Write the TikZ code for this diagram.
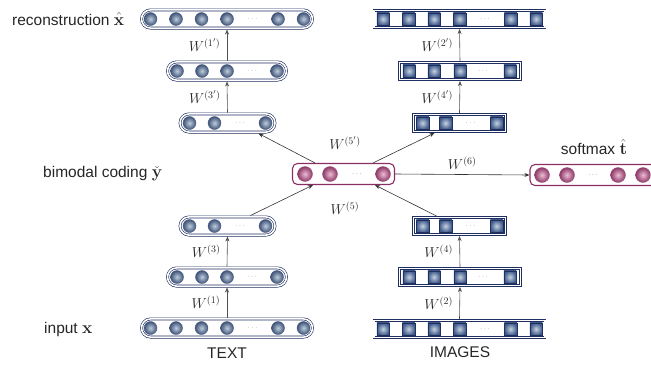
\documentclass[tikz,border=0pt]{standalone}
\usepackage[no-math]{fontspec}
\setsansfont{Liberation Sans}
\usetikzlibrary{shapes.misc,calc,arrows.meta}
\definecolor{navyc}{HTML}{1F2F5F}
\definecolor{tin}{HTML}{BFCCDB}
\definecolor{tout}{HTML}{3D5378}
\definecolor{sin}{HTML}{C6D2E0}
\definecolor{sout}{HTML}{3F5A8A}
\definecolor{purc}{HTML}{8A2E63}
\definecolor{pin}{HTML}{EDBCD4}
\definecolor{pout}{HTML}{8C3866}
\definecolor{arrc}{HTML}{505050}
\newcommand\lblmath[1]{{\fontsize{17.28}{20}\selectfont$#1$}}
\tikzset{
  layerbase/.style={draw=navyc, line width=0.6pt, double=white, double distance=1.6pt, outer sep=1.4pt, inner sep=0pt},
  tlayer/.style={layerbase, rounded rectangle, minimum height=18.2pt},
  ilayer/.style={layerbase, rectangle, minimum height=17.2pt},
  player/.style={draw=purc, line width=1.1pt, rounded corners=5pt, rectangle, minimum height=21pt, inner sep=0pt, outer sep=0.6pt},
  tunit/.style={circle, inner sep=0pt, minimum size=13pt, draw=navyc!80, line width=0.4pt, inner color=tin, outer color=tout},
  iunit/.style={rectangle, inner sep=0pt, minimum size=12.5pt, draw=navyc, line width=0.5pt, inner color=sin, outer color=sout},
  punit/.style={circle, inner sep=0pt, minimum size=15pt, draw=purc!80, line width=0.4pt, inner color=pin, outer color=pout},
  dotsty/.style={inner sep=0pt, font=\scriptsize, text=gray},
  dotp/.style={inner sep=0pt, font=\scriptsize, text=purc},
  lab/.style={font=\sffamily\fontsize{15.5}{18}\selectfont, text=black!85, inner sep=0pt},
  wlab/.style={font=\fontsize{14}{16}\selectfont, text=black!85, inner sep=1.5pt},
  varr/.style={draw=arrc, line width=0.6pt, -{Stealth[length=5pt,width=4pt]}},
  darr/.style={draw=black!80, line width=0.6pt, -{Stealth[length=5pt,width=4pt]}},
}
\newcommand\mkrow[5]{%
  \foreach \o [count=\i] in {#3} \node[#2] (#1-\i) at ($(#1.center)+(\o,0)$) {};
  \node[#5] (#1-d) at ($(#1.center)+(#4,0)$) {$\cdots$};
}
\begin{document}
\begin{tikzpicture}[x=1pt,y=-1pt]
\useasboundingbox (0,0) rectangle (651,365);
% text column
\node[tlayer, minimum width=171pt] (tt) at (227,19) {};
\mkrow{tt}{tunit}{-76.5,-51,-25.5,0,51,76.5}{25.5}{dotsty}
\node[tlayer, minimum width=119pt] (tm) at (227,71) {};
\mkrow{tm}{tunit}{-50,-25,0,50}{25}{dotsty}
\node[tlayer, minimum width=95pt] (tl) at (227.5,123) {};
\mkrow{tl}{tunit}{-38,-13,38}{12.5}{dotsty}
\node[tlayer, minimum width=95pt] (t3) at (227.5,226) {};
\mkrow{t3}{tunit}{-38,-13,38}{12.5}{dotsty}
\node[tlayer, minimum width=119pt] (t2) at (227,277) {};
\mkrow{t2}{tunit}{-50,-25,0,50}{25}{dotsty}
\node[tlayer, minimum width=171pt] (t1) at (227,328) {};
\mkrow{t1}{tunit}{-76.5,-51,-25.5,0,51,76.5}{25.5}{dotsty}
% image column
\node[ilayer, minimum width=171pt] (it) at (459.5,19) {};
\mkrow{it}{iunit}{-76.5,-51,-25.5,0,51,76.5}{25.5}{dotsty}
\node[ilayer, minimum width=121pt] (im) at (460,71) {};
\mkrow{im}{iunit}{-51,-26,0,50}{23}{dotsty}
\node[ilayer, minimum width=92pt] (il) at (459.5,123) {};
\mkrow{il}{iunit}{-37,-14,37}{11}{dotsty}
\node[ilayer, minimum width=92pt] (i3) at (459.5,226) {};
\mkrow{i3}{iunit}{-37,-14,37}{11}{dotsty}
\node[ilayer, minimum width=121pt] (i2) at (460,277) {};
\mkrow{i2}{iunit}{-51,-26,0,50}{23}{dotsty}
\node[ilayer, minimum width=171pt] (i1) at (459.5,329) {};
\mkrow{i1}{iunit}{-76.5,-51,-25.5,0,51,76.5}{25.5}{dotsty}
% bimodal and softmax
\node[player, minimum width=102pt] (B) at (343.5,174) {};
\mkrow{B}{punit}{-38.5,-13.5,39.5}{13.5}{dotp}
\node[player, minimum width=130pt] (S) at (595,175) {};
\mkrow{S}{punit}{-53,-28,23,48}{-2}{dotp}
% vertical arrows
\draw[varr] (tm.north) -- node[wlab, left=5pt] (w1p) {$W^{(1')}$} (tt.south);
\draw[varr] (tl.north) -- node[wlab, left=5pt] (w3p) {$W^{(3')}$} (tm.south);
\draw[varr] (t2.north) -- node[wlab, left=5pt] (w3) {$W^{(3)}$} (t3.south);
\draw[varr] (t1.north) -- node[wlab, left=5pt] (w1) {$W^{(1)}$} (t2.south);
\draw[varr] (im.north) -- node[wlab, left=5pt] (w2p) {$W^{(2')}$} (it.south);
\draw[varr] (il.north) -- node[wlab, left=5pt] (w4p) {$W^{(4')}$} (im.south);
\draw[varr] (i2.north) -- node[wlab, left=5pt] (w4) {$W^{(4)}$} (i3.south);
\draw[varr] (i1.north) -- node[wlab, left=5pt] (w2) {$W^{(2)}$} (i2.south);
% diagonal arrows
\draw[darr] ($(B.north west)+(23,0)$) -- ($(tl.south)+(31,0)$);
\draw[darr] ($(B.north east)+(-22,0)$) -- ($(il.south)+(-25,0)$);
\draw[darr] ($(t3.north)+(23,0)$) -- ($(B.south west)+(21,0)$);
\draw[darr] ($(i3.north)+(-23,0)$) -- ($(B.south east)+(-20,0)$);
\draw[darr] (B.east) -- node[wlab, above=3pt] (w6) {$W^{(6)}$} (S.west);
\node[wlab] (w5p) at (345,143) {$W^{(5')}$};
\node[wlab] (w5) at (345,208) {$W^{(5)}$};
% labels
\node[lab, anchor=west] (lrec) at (12,19) {reconstruction \lblmath{\hat{\mathbf{x}}}};
\node[lab, anchor=west] (lbim) at (43,174) {bimodal coding \lblmath{\check{\mathbf{y}}}};
\node[lab, anchor=west] (linp) at (44,329) {input \lblmath{\mathbf{x}}};
\node[lab] (ltext) at (227,353) {TEXT};
\node[lab] (limg) at (460,352) {IMAGES};
\node[lab] (lsoft) at (594,147) {softmax \lblmath{\hat{\mathbf{t}}}};
\end{tikzpicture}
\end{document}
